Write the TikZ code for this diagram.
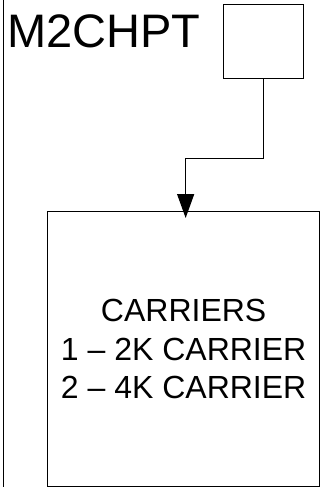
\documentclass[tikz,border=0pt]{standalone}
\usepackage{fontspec}
\setmainfont{Liberation Sans}
\usetikzlibrary{arrows.meta,calc}
\begin{document}
\begin{tikzpicture}[x=1pt,y=-1pt,
  box/.style={draw,line width=1.3pt,inner sep=0pt},
  conn/.style={line width=1.3pt,-{Triangle[length=24pt,width=17pt]}},
  lbl/.style={inner sep=0pt,font=\fontsize{47}{50}\selectfont}]
\useasboundingbox (0,0) rectangle (320,487);
\node[box,anchor=north west,minimum width=340pt,minimum height=520pt] (frame) at (3,-10) {};
\node[lbl,anchor=base west] (title) at (7,48) {M2CHPT};
\node[box,anchor=north west,minimum width=80pt,minimum height=74pt] (small) at (223,4) {};
\node[box,anchor=north west,minimum width=272pt,minimum height=275pt,align=center,
  font=\fontsize{32}{38.5}\selectfont] (big) at (47,211)
  {CARRIERS\\1 – 2K CARRIER\\2 – 4K CARRIER};
\draw[conn] (small.south) -- ++(0,79) -| ([xshift=2pt,yshift=-7pt]big.north);
\end{tikzpicture}
\end{document}
